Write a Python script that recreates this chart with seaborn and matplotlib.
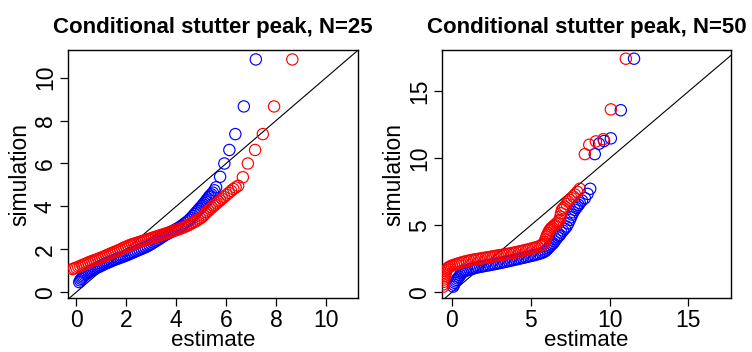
import numpy as np
import pandas as pd
import seaborn as sns
import matplotlib
matplotlib.use("Agg")
import matplotlib.pyplot as plt

sns.set_theme(style="ticks")
plt.rcParams['font.family'] = ['Liberation Sans', 'DejaVu Sans']
plt.rcParams.update({"text.color": "black", "axes.labelcolor": "black",
                     "xtick.color": "black", "ytick.color": "black"})

# ---------------- Panel 1 (N=25) ----------------
p1_blue_est = [0.12, 0.16, 0.2, 0.24, 0.28, 0.33, 0.38, 0.44, 0.5, 0.57, 0.64, 0.71, 0.78, 0.85,
               0.92, 0.99, 1.06, 1.13, 1.2, 1.27, 1.34, 1.41, 1.48, 1.55, 1.62, 1.69, 1.76, 1.83,
               1.9, 1.97, 2.05, 2.13, 2.21, 2.29, 2.37, 2.45, 2.53, 2.61, 2.69, 2.77, 2.85, 2.93,
               3.01, 3.09, 3.17, 3.25, 3.33, 3.41, 3.49, 3.57, 3.65, 3.73, 3.81, 3.89, 3.97, 4.05,
               4.13, 4.21, 4.29, 4.37, 4.45, 4.53, 4.6, 4.67, 4.74, 4.8, 4.86, 4.92, 4.98, 5.03,
               5.08, 5.13, 5.18, 5.22, 5.27, 5.31, 5.36, 5.41, 5.47, 5.53, 5.6,
               5.76, 5.93, 6.13, 6.37, 6.71, 7.19]
p1_blue_sim = [0.47, 0.55, 0.62, 0.68, 0.73, 0.78, 0.83, 0.88, 0.93, 0.98, 1.03, 1.07, 1.11, 1.15,
               1.19, 1.23, 1.27, 1.31, 1.35, 1.38, 1.42, 1.45, 1.49, 1.52, 1.55, 1.58, 1.61, 1.64,
               1.67, 1.7, 1.74, 1.78, 1.82, 1.86, 1.9, 1.94, 1.98, 2.02, 2.06, 2.1, 2.15, 2.2,
               2.25, 2.31, 2.37, 2.43, 2.49, 2.55, 2.61, 2.67, 2.72, 2.77, 2.82, 2.87, 2.92, 2.97,
               3.03, 3.09, 3.16, 3.23, 3.3, 3.38, 3.46, 3.55, 3.64, 3.72, 3.8, 3.88, 3.95, 4.02,
               4.09, 4.16, 4.23, 4.3, 4.37, 4.44, 4.5, 4.56, 4.64, 4.75, 4.89,
               5.38, 6.0, 6.63, 7.37, 8.66, 10.85]

p1_red_est = [-0.15, -0.08, 0.0, 0.08, 0.16, 0.24, 0.32, 0.4, 0.48, 0.56, 0.64, 0.72, 0.8, 0.88,
              0.96, 1.04, 1.12, 1.2, 1.28, 1.36, 1.44, 1.52, 1.6, 1.68, 1.76, 1.84, 1.92, 2.0,
              2.08, 2.16, 2.24, 2.32, 2.4, 2.48, 2.56, 2.64, 2.72, 2.8, 2.88, 2.96, 3.04, 3.12,
              3.2, 3.28, 3.36, 3.44, 3.52, 3.6, 3.68, 3.76, 3.84, 3.92, 4.0, 4.08, 4.16, 4.24,
              4.32, 4.4, 4.48, 4.56, 4.64, 4.72, 4.8, 4.88, 4.96, 5.04, 5.1, 5.16, 5.22, 5.29,
              5.36, 5.43, 5.5, 5.56, 5.63, 5.7, 5.76, 5.84, 5.92, 6.02, 6.11, 6.2, 6.29, 6.38,
              6.48, 6.67, 6.87, 7.16, 7.47, 7.92, 8.65]
p1_red_sim = [1.08, 1.11, 1.14, 1.18, 1.22, 1.26, 1.3, 1.34, 1.38, 1.42, 1.45, 1.49, 1.52, 1.56,
              1.59, 1.63, 1.67, 1.71, 1.75, 1.79, 1.83, 1.87, 1.91, 1.95, 1.99, 2.04, 2.08, 2.12,
              2.16, 2.2, 2.23, 2.26, 2.29, 2.32, 2.35, 2.38, 2.41, 2.44, 2.47, 2.5, 2.53, 2.56,
              2.59, 2.62, 2.65, 2.68, 2.71, 2.74, 2.77, 2.8, 2.83, 2.86, 2.9, 2.93, 2.96, 3.0,
              3.04, 3.08, 3.12, 3.17, 3.22, 3.27, 3.32, 3.38, 3.44, 3.51, 3.58, 3.66, 3.73, 3.8,
              3.88, 3.95, 4.02, 4.08, 4.15, 4.22, 4.28, 4.36, 4.44, 4.54, 4.63, 4.72, 4.81, 4.88,
              4.96, 5.36, 6.0, 6.63, 7.37, 8.66, 10.85]

# ---------------- Panel 2 (N=50) ----------------
p2_blue_est = [0.08, 0.13, 0.18, 0.24, 0.3, 0.37, 0.45, 0.53, 0.61, 0.7, 0.8, 0.9, 1.0, 1.12,
               1.24, 1.36, 1.5, 1.65, 1.8, 1.95, 2.1, 2.25, 2.4, 2.55, 2.7, 2.85, 3.0, 3.15, 3.3,
               3.45, 3.6, 3.75, 3.9, 4.05, 4.2, 4.35, 4.5, 4.65, 4.8, 4.95, 5.1, 5.25, 5.4, 5.55,
               5.7, 5.82, 5.93, 6.02, 6.1, 6.18, 6.25, 6.33, 6.42, 6.51, 6.6, 6.7, 6.78, 6.84,
               6.94, 7.05, 7.16, 7.27, 7.38, 7.48, 7.55, 7.62, 7.7, 7.79, 7.88, 7.95, 8.03, 8.11,
               8.25, 8.43, 8.6, 8.77,
               9.06, 9.33, 9.65, 10.08, 10.71, 11.55]
p2_blue_sim = [0.42, 0.56, 0.7, 0.81, 0.92, 1.03, 1.15, 1.28, 1.42, 1.51, 1.57, 1.62, 1.66, 1.7,
               1.74, 1.78, 1.82, 1.86, 1.9, 1.93, 1.97, 2.0, 2.03, 2.07, 2.1, 2.14, 2.17, 2.21, 2.25,
               2.29, 2.33, 2.37, 2.41, 2.45, 2.49, 2.53, 2.57, 2.61, 2.65, 2.7, 2.74, 2.78, 2.83, 2.88,
               2.94, 3.0, 3.08, 3.18, 3.28, 3.38, 3.48, 3.57, 3.66, 3.8, 3.95, 4.1, 4.22, 4.29,
               4.45, 4.6, 4.75, 4.91, 5.15, 5.41, 5.6, 5.8, 5.98, 6.16, 6.3, 6.4, 6.53, 6.66,
               6.85, 7.03, 7.35, 7.73,
               10.32, 11.1, 11.3, 11.5, 13.6, 17.45]

p2_red_est = [-0.55, -0.53, -0.51, -0.49, -0.47, -0.44, -0.41, -0.37, -0.33, -0.28, -0.2, -0.1,
              0.0, 0.12, 0.25, 0.38, 0.52, 0.66, 0.8, 0.95, 1.1, 1.25, 1.4, 1.55, 1.7, 1.85, 2.0,
              2.15, 2.3, 2.45, 2.6, 2.75, 2.9, 3.05, 3.2, 3.35, 3.5, 3.65, 3.8, 3.95, 4.1, 4.25,
              4.4, 4.55, 4.7, 4.85, 5.0, 5.15, 5.3, 5.45, 5.58, 5.7, 5.79, 5.86, 5.93, 6.0, 6.05,
              6.1, 6.16, 6.21, 6.28, 6.35, 6.44, 6.53, 6.62, 6.7, 6.77, 6.84, 6.88, 6.92, 6.98,
              7.07, 7.16, 7.27, 7.37, 7.47, 7.58, 7.7, 7.8, 7.95, 8.11,
              8.43, 8.71, 9.13, 9.61, 10.08, 11.03]
p2_red_sim = [0.42, 0.6, 0.78, 0.95, 1.1, 1.25, 1.4, 1.55, 1.68, 1.79, 1.87, 1.94,
              1.99, 2.04, 2.09, 2.14, 2.19, 2.24, 2.29, 2.33, 2.37, 2.41, 2.44, 2.47, 2.5, 2.53, 2.56,
              2.59, 2.62, 2.65, 2.68, 2.71, 2.74, 2.77, 2.8, 2.83, 2.86, 2.89, 2.93, 2.96, 3.0, 3.04,
              3.08, 3.12, 3.16, 3.2, 3.25, 3.3, 3.35, 3.4, 3.45, 3.52, 3.6, 3.75, 3.95, 4.16, 4.3,
              4.42, 4.55, 4.66, 4.76, 4.85, 4.94, 5.03, 5.12, 5.2, 5.3, 5.41, 5.65, 5.9, 6.16,
              6.28, 6.4, 6.6, 6.78, 6.9, 7.03, 7.15, 7.3, 7.5, 7.73,
              10.32, 11.02, 11.27, 11.44, 13.66, 17.45]

titles = ["Conditional stutter peak, N=25", "Conditional stutter peak, N=50"]
xticks = [[0, 2, 4, 6, 8, 10], [0, 5, 10, 15]]
yticks = [[0, 2, 4, 6, 8, 10], [0, 5, 10, 15]]
xlims = [(-0.33, 11.28), (-0.63, 17.7)]
ylims = [(-0.27, 11.29), (-0.43, 18.1)]

panels = [
    (p1_blue_est, p1_blue_sim, p1_red_est, p1_red_sim),
    (p2_blue_est, p2_blue_sim, p2_red_est, p2_red_sim),
]

fig = plt.figure(figsize=(7.52, 3.52), dpi=100)
ax_pos = [[68 / 752, 1 - 298 / 352, 290 / 752, 248 / 352],
          [442 / 752, 1 - 298 / 352, 289 / 752, 248 / 352]]

for i, (be, bs, re_, rs) in enumerate(panels):
    ax = fig.add_axes(ax_pos[i])
    ax.axline((0, 0), slope=1, color="black", lw=0.8, zorder=1)
    dfb = pd.DataFrame({"estimate": be, "simulation": bs})
    dfr = pd.DataFrame({"estimate": re_, "simulation": rs})
    sns.scatterplot(data=dfb, x="estimate", y="simulation", ax=ax, marker="o", s=66,
                    facecolor="none", edgecolor="#0000ff", linewidth=0.85, zorder=2)
    sns.scatterplot(data=dfr, x="estimate", y="simulation", ax=ax, marker="o", s=66,
                    facecolor="none", edgecolor="#ff0000", linewidth=0.85, zorder=3)
    ax.set_xlim(*xlims[i])
    ax.set_ylim(*ylims[i])
    ax.set_xticks(xticks[i])
    ax.set_yticks(yticks[i])
    ax.set_xticklabels([str(t) for t in xticks[i]], fontsize=16.5)
    ax.set_yticklabels([str(t) for t in yticks[i]], fontsize=16.5, rotation=90, va="center")
    ax.tick_params(axis="both", direction="out", length=6, width=0.9, color="black", pad=2)
    for sp in ax.spines.values():
        sp.set_visible(True)
        sp.set_color("black")
        sp.set_linewidth(1.0)
    ax.set_xlabel("estimate", fontsize=16, labelpad=-1.5)
    ax.set_ylabel("simulation", fontsize=16.5, labelpad=2)
    ax.set_title(titles[i], fontsize=16, fontweight="bold", pad=12)

fig.savefig("out.png", dpi=100)
